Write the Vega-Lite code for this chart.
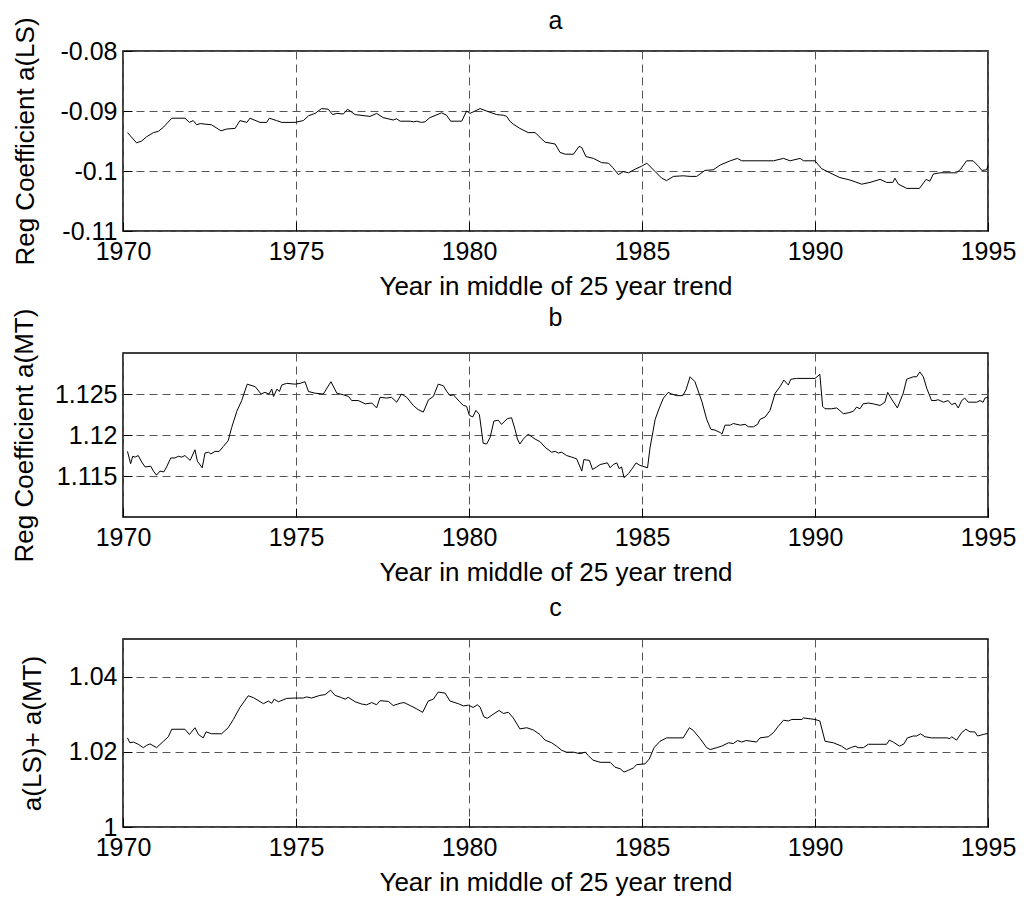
{
  "$schema": "https://vega.github.io/schema/vega-lite/v6.json",
  "background": "white",
  "padding": {"left": 10, "top": 8, "right": 5, "bottom": 2},
  "spacing": 122,
  "bounds": "flush",
  "datasets": {
    "a": [
      {"t": 1970.13, "v": -0.0936}, {"t": 1970.39, "v": -0.0953}, {"t": 1970.54, "v": -0.0950}, {"t": 1970.68, "v": -0.0943},
      {"t": 1970.88, "v": -0.0936}, {"t": 1971.02, "v": -0.0934}, {"t": 1971.17, "v": -0.0927}, {"t": 1971.41, "v": -0.0912},
      {"t": 1971.79, "v": -0.0912}, {"t": 1971.92, "v": -0.0919}, {"t": 1972.03, "v": -0.0916}, {"t": 1972.13, "v": -0.0923},
      {"t": 1972.23, "v": -0.0921}, {"t": 1972.56, "v": -0.0923}, {"t": 1972.83, "v": -0.0933}, {"t": 1973.0, "v": -0.0930},
      {"t": 1973.24, "v": -0.0929}, {"t": 1973.38, "v": -0.0916}, {"t": 1973.58, "v": -0.0919}, {"t": 1973.67, "v": -0.0912},
      {"t": 1973.96, "v": -0.0919}, {"t": 1974.15, "v": -0.0919}, {"t": 1974.23, "v": -0.0912}, {"t": 1974.44, "v": -0.0916},
      {"t": 1974.59, "v": -0.0919}, {"t": 1974.97, "v": -0.0919}, {"t": 1975.21, "v": -0.0916}, {"t": 1975.36, "v": -0.0908},
      {"t": 1975.55, "v": -0.0904}, {"t": 1975.74, "v": -0.0896}, {"t": 1975.93, "v": -0.0897}, {"t": 1976.06, "v": -0.0906},
      {"t": 1976.18, "v": -0.0904}, {"t": 1976.37, "v": -0.0905}, {"t": 1976.49, "v": -0.0897}, {"t": 1976.71, "v": -0.0906},
      {"t": 1977.14, "v": -0.0909}, {"t": 1977.33, "v": -0.0904}, {"t": 1977.52, "v": -0.0911}, {"t": 1977.81, "v": -0.0915},
      {"t": 1977.91, "v": -0.0913}, {"t": 1978.01, "v": -0.0917}, {"t": 1978.30, "v": -0.0917}, {"t": 1978.39, "v": -0.0918},
      {"t": 1978.49, "v": -0.0917}, {"t": 1978.63, "v": -0.0919}, {"t": 1978.73, "v": -0.0918}, {"t": 1978.87, "v": -0.0911},
      {"t": 1979.21, "v": -0.0903}, {"t": 1979.35, "v": -0.0907}, {"t": 1979.47, "v": -0.0917}, {"t": 1979.79, "v": -0.0917},
      {"t": 1979.93, "v": -0.0900}, {"t": 1980.03, "v": -0.0904}, {"t": 1980.32, "v": -0.0896}, {"t": 1980.60, "v": -0.0902},
      {"t": 1980.80, "v": -0.0906}, {"t": 1980.99, "v": -0.0907}, {"t": 1981.09, "v": -0.0909}, {"t": 1981.18, "v": -0.0917},
      {"t": 1981.28, "v": -0.0922}, {"t": 1981.47, "v": -0.0929}, {"t": 1981.71, "v": -0.0936}, {"t": 1981.91, "v": -0.0936},
      {"t": 1982.20, "v": -0.0952}, {"t": 1982.49, "v": -0.0955}, {"t": 1982.63, "v": -0.0969}, {"t": 1982.78, "v": -0.0972},
      {"t": 1983.02, "v": -0.0972}, {"t": 1983.18, "v": -0.0959}, {"t": 1983.26, "v": -0.0961}, {"t": 1983.38, "v": -0.0976},
      {"t": 1983.60, "v": -0.0979}, {"t": 1983.83, "v": -0.0986}, {"t": 1984.03, "v": -0.0987}, {"t": 1984.15, "v": -0.0994},
      {"t": 1984.32, "v": -0.1006}, {"t": 1984.46, "v": -0.1001}, {"t": 1984.61, "v": -0.1003}, {"t": 1984.80, "v": -0.0997},
      {"t": 1984.99, "v": -0.0992}, {"t": 1985.14, "v": -0.0987}, {"t": 1985.38, "v": -0.1001}, {"t": 1985.57, "v": -0.1012},
      {"t": 1985.71, "v": -0.1016}, {"t": 1985.91, "v": -0.1009}, {"t": 1986.19, "v": -0.1008}, {"t": 1986.39, "v": -0.1009},
      {"t": 1986.58, "v": -0.1009}, {"t": 1986.82, "v": -0.0999}, {"t": 1987.06, "v": -0.0998}, {"t": 1987.26, "v": -0.0990},
      {"t": 1987.55, "v": -0.0983}, {"t": 1987.76, "v": -0.0979}, {"t": 1987.88, "v": -0.0983}, {"t": 1988.80, "v": -0.0983},
      {"t": 1989.09, "v": -0.0979}, {"t": 1989.28, "v": -0.0983}, {"t": 1989.57, "v": -0.0979}, {"t": 1989.67, "v": -0.0983},
      {"t": 1990.00, "v": -0.0983}, {"t": 1990.19, "v": -0.0996}, {"t": 1990.43, "v": -0.1003}, {"t": 1990.72, "v": -0.1011},
      {"t": 1991.01, "v": -0.1015}, {"t": 1991.16, "v": -0.1018}, {"t": 1991.35, "v": -0.1022}, {"t": 1991.59, "v": -0.1019},
      {"t": 1991.88, "v": -0.1014}, {"t": 1992.07, "v": -0.1019}, {"t": 1992.25, "v": -0.1019}, {"t": 1992.31, "v": -0.1012},
      {"t": 1992.41, "v": -0.1022}, {"t": 1992.65, "v": -0.1029}, {"t": 1993.02, "v": -0.1029}, {"t": 1993.21, "v": -0.1014},
      {"t": 1993.32, "v": -0.1017}, {"t": 1993.42, "v": -0.1005}, {"t": 1993.61, "v": -0.1003}, {"t": 1994.09, "v": -0.1003},
      {"t": 1994.21, "v": -0.0997}, {"t": 1994.38, "v": -0.0983}, {"t": 1994.57, "v": -0.0983}, {"t": 1994.74, "v": -0.0993},
      {"t": 1994.82, "v": -0.0999}, {"t": 1994.96, "v": -0.0998}, {"t": 1995.0, "v": -0.0991}
    ],
    "b": [
      {"t": 1970.13, "v": 1.1180}, {"t": 1970.22, "v": 1.1165}, {"t": 1970.28, "v": 1.1174}, {"t": 1970.35, "v": 1.1173},
      {"t": 1970.44, "v": 1.1175}, {"t": 1970.54, "v": 1.1167}, {"t": 1970.64, "v": 1.1161}, {"t": 1970.80, "v": 1.1162},
      {"t": 1970.88, "v": 1.1156}, {"t": 1970.97, "v": 1.1151}, {"t": 1971.07, "v": 1.1156}, {"t": 1971.18, "v": 1.1155},
      {"t": 1971.26, "v": 1.1161}, {"t": 1971.38, "v": 1.1172}, {"t": 1971.50, "v": 1.1172}, {"t": 1971.60, "v": 1.1174},
      {"t": 1971.70, "v": 1.1173}, {"t": 1971.79, "v": 1.1175}, {"t": 1971.94, "v": 1.1169}, {"t": 1972.08, "v": 1.1182},
      {"t": 1972.15, "v": 1.1168}, {"t": 1972.29, "v": 1.1160}, {"t": 1972.37, "v": 1.1178}, {"t": 1972.47, "v": 1.1179},
      {"t": 1972.54, "v": 1.1177}, {"t": 1972.66, "v": 1.1180}, {"t": 1972.78, "v": 1.1180}, {"t": 1972.90, "v": 1.1186},
      {"t": 1973.04, "v": 1.1193}, {"t": 1973.14, "v": 1.1209}, {"t": 1973.29, "v": 1.1229}, {"t": 1973.43, "v": 1.1242},
      {"t": 1973.59, "v": 1.1262}, {"t": 1973.82, "v": 1.1259}, {"t": 1973.99, "v": 1.1250}, {"t": 1974.10, "v": 1.1252},
      {"t": 1974.22, "v": 1.1250}, {"t": 1974.30, "v": 1.1256}, {"t": 1974.35, "v": 1.1247}, {"t": 1974.45, "v": 1.1256},
      {"t": 1974.52, "v": 1.1253}, {"t": 1974.59, "v": 1.1261}, {"t": 1974.73, "v": 1.1263}, {"t": 1974.97, "v": 1.1262},
      {"t": 1975.12, "v": 1.1263}, {"t": 1975.26, "v": 1.1265}, {"t": 1975.36, "v": 1.1253}, {"t": 1975.55, "v": 1.1251},
      {"t": 1975.79, "v": 1.1250}, {"t": 1976.01, "v": 1.1265}, {"t": 1976.18, "v": 1.1251}, {"t": 1976.37, "v": 1.1249},
      {"t": 1976.52, "v": 1.1247}, {"t": 1976.61, "v": 1.1242}, {"t": 1976.80, "v": 1.1242}, {"t": 1977.00, "v": 1.1238},
      {"t": 1977.19, "v": 1.1239}, {"t": 1977.33, "v": 1.1233}, {"t": 1977.43, "v": 1.1246}, {"t": 1977.62, "v": 1.1245},
      {"t": 1977.76, "v": 1.1246}, {"t": 1977.91, "v": 1.1240}, {"t": 1978.05, "v": 1.1250}, {"t": 1978.20, "v": 1.1246},
      {"t": 1978.39, "v": 1.1236}, {"t": 1978.53, "v": 1.1231}, {"t": 1978.68, "v": 1.1228}, {"t": 1978.83, "v": 1.1243},
      {"t": 1978.97, "v": 1.1247}, {"t": 1979.11, "v": 1.1262}, {"t": 1979.26, "v": 1.1260}, {"t": 1979.36, "v": 1.1253},
      {"t": 1979.45, "v": 1.1248}, {"t": 1979.55, "v": 1.1249}, {"t": 1979.72, "v": 1.1241}, {"t": 1979.84, "v": 1.1236},
      {"t": 1979.93, "v": 1.1235}, {"t": 1980.01, "v": 1.1224}, {"t": 1980.11, "v": 1.1222}, {"t": 1980.20, "v": 1.1230},
      {"t": 1980.30, "v": 1.1225}, {"t": 1980.41, "v": 1.1190}, {"t": 1980.51, "v": 1.1189}, {"t": 1980.61, "v": 1.1197},
      {"t": 1980.72, "v": 1.1217}, {"t": 1980.85, "v": 1.1218}, {"t": 1980.94, "v": 1.1213}, {"t": 1981.11, "v": 1.1220},
      {"t": 1981.23, "v": 1.1221}, {"t": 1981.33, "v": 1.1207}, {"t": 1981.40, "v": 1.1195}, {"t": 1981.47, "v": 1.1189},
      {"t": 1981.57, "v": 1.1195}, {"t": 1981.71, "v": 1.1201}, {"t": 1981.91, "v": 1.1195}, {"t": 1982.05, "v": 1.1192},
      {"t": 1982.20, "v": 1.1185}, {"t": 1982.39, "v": 1.1179}, {"t": 1982.49, "v": 1.1180}, {"t": 1982.58, "v": 1.1178},
      {"t": 1982.68, "v": 1.1179}, {"t": 1982.82, "v": 1.1175}, {"t": 1982.97, "v": 1.1173}, {"t": 1983.11, "v": 1.1171},
      {"t": 1983.21, "v": 1.1161}, {"t": 1983.26, "v": 1.1156}, {"t": 1983.32, "v": 1.1170}, {"t": 1983.48, "v": 1.1169},
      {"t": 1983.57, "v": 1.1158}, {"t": 1983.69, "v": 1.1161}, {"t": 1983.79, "v": 1.1164}, {"t": 1984.00, "v": 1.1166},
      {"t": 1984.08, "v": 1.1160}, {"t": 1984.17, "v": 1.1164}, {"t": 1984.27, "v": 1.1166}, {"t": 1984.34, "v": 1.1159},
      {"t": 1984.41, "v": 1.1161}, {"t": 1984.48, "v": 1.1148}, {"t": 1984.61, "v": 1.1153}, {"t": 1984.70, "v": 1.1158},
      {"t": 1984.83, "v": 1.1166}, {"t": 1984.94, "v": 1.1163}, {"t": 1985.16, "v": 1.1160}, {"t": 1985.23, "v": 1.1184},
      {"t": 1985.38, "v": 1.1219}, {"t": 1985.50, "v": 1.1233}, {"t": 1985.62, "v": 1.1245}, {"t": 1985.76, "v": 1.1252},
      {"t": 1985.86, "v": 1.1250}, {"t": 1986.00, "v": 1.1248}, {"t": 1986.18, "v": 1.1248}, {"t": 1986.27, "v": 1.1255},
      {"t": 1986.39, "v": 1.1271}, {"t": 1986.53, "v": 1.1265}, {"t": 1986.73, "v": 1.1241}, {"t": 1986.87, "v": 1.1219},
      {"t": 1986.99, "v": 1.1207}, {"t": 1987.11, "v": 1.1206}, {"t": 1987.26, "v": 1.1203}, {"t": 1987.31, "v": 1.1201},
      {"t": 1987.40, "v": 1.1212}, {"t": 1987.55, "v": 1.1212}, {"t": 1987.64, "v": 1.1214}, {"t": 1987.84, "v": 1.1212},
      {"t": 1987.98, "v": 1.1213}, {"t": 1988.08, "v": 1.1210}, {"t": 1988.22, "v": 1.1210}, {"t": 1988.34, "v": 1.1213},
      {"t": 1988.41, "v": 1.1219}, {"t": 1988.56, "v": 1.1222}, {"t": 1988.70, "v": 1.1230}, {"t": 1988.85, "v": 1.1251},
      {"t": 1988.99, "v": 1.1259}, {"t": 1989.10, "v": 1.1267}, {"t": 1989.23, "v": 1.1261}, {"t": 1989.30, "v": 1.1268},
      {"t": 1989.47, "v": 1.1269}, {"t": 1990.00, "v": 1.1269}, {"t": 1990.14, "v": 1.1274}, {"t": 1990.22, "v": 1.1235},
      {"t": 1990.29, "v": 1.1232}, {"t": 1990.48, "v": 1.1232}, {"t": 1990.63, "v": 1.1233}, {"t": 1990.82, "v": 1.1226},
      {"t": 1990.96, "v": 1.1227}, {"t": 1991.11, "v": 1.1229}, {"t": 1991.20, "v": 1.1234}, {"t": 1991.30, "v": 1.1232},
      {"t": 1991.39, "v": 1.1238}, {"t": 1991.54, "v": 1.1239}, {"t": 1991.68, "v": 1.1238}, {"t": 1991.88, "v": 1.1236},
      {"t": 1992.02, "v": 1.1240}, {"t": 1992.10, "v": 1.1252}, {"t": 1992.21, "v": 1.1244}, {"t": 1992.38, "v": 1.1233},
      {"t": 1992.55, "v": 1.1251}, {"t": 1992.65, "v": 1.1268}, {"t": 1992.84, "v": 1.1271}, {"t": 1992.94, "v": 1.1271},
      {"t": 1993.03, "v": 1.1277}, {"t": 1993.13, "v": 1.1271}, {"t": 1993.23, "v": 1.1257}, {"t": 1993.37, "v": 1.1242},
      {"t": 1993.47, "v": 1.1242}, {"t": 1993.56, "v": 1.1243}, {"t": 1993.71, "v": 1.1240}, {"t": 1993.85, "v": 1.1242},
      {"t": 1993.95, "v": 1.1237}, {"t": 1994.05, "v": 1.1239}, {"t": 1994.14, "v": 1.1233}, {"t": 1994.24, "v": 1.1242},
      {"t": 1994.33, "v": 1.1245}, {"t": 1994.43, "v": 1.1240}, {"t": 1994.67, "v": 1.1240}, {"t": 1994.77, "v": 1.1242},
      {"t": 1994.86, "v": 1.1240}, {"t": 1994.91, "v": 1.1245}, {"t": 1995.0, "v": 1.1246}
    ],
    "c": [
      {"t": 1970.13, "v": 1.0237}, {"t": 1970.20, "v": 1.0224}, {"t": 1970.30, "v": 1.0226}, {"t": 1970.44, "v": 1.0220},
      {"t": 1970.59, "v": 1.0211}, {"t": 1970.68, "v": 1.0217}, {"t": 1970.78, "v": 1.0221}, {"t": 1970.97, "v": 1.0211},
      {"t": 1971.17, "v": 1.0228}, {"t": 1971.31, "v": 1.0240}, {"t": 1971.41, "v": 1.0260}, {"t": 1971.79, "v": 1.0260},
      {"t": 1971.92, "v": 1.0246}, {"t": 1972.08, "v": 1.0264}, {"t": 1972.18, "v": 1.0246}, {"t": 1972.32, "v": 1.0237},
      {"t": 1972.40, "v": 1.0253}, {"t": 1972.56, "v": 1.0248}, {"t": 1972.85, "v": 1.0248}, {"t": 1973.04, "v": 1.0264},
      {"t": 1973.19, "v": 1.0286}, {"t": 1973.38, "v": 1.0318}, {"t": 1973.62, "v": 1.0349}, {"t": 1973.77, "v": 1.0344},
      {"t": 1974.06, "v": 1.0328}, {"t": 1974.20, "v": 1.0335}, {"t": 1974.30, "v": 1.0329}, {"t": 1974.37, "v": 1.0340},
      {"t": 1974.49, "v": 1.0333}, {"t": 1974.73, "v": 1.0342}, {"t": 1974.97, "v": 1.0343}, {"t": 1975.21, "v": 1.0343},
      {"t": 1975.31, "v": 1.0346}, {"t": 1975.45, "v": 1.0343}, {"t": 1975.69, "v": 1.0350}, {"t": 1975.84, "v": 1.0352},
      {"t": 1976.00, "v": 1.0364}, {"t": 1976.13, "v": 1.0350}, {"t": 1976.32, "v": 1.0344}, {"t": 1976.42, "v": 1.0340},
      {"t": 1976.51, "v": 1.0345}, {"t": 1976.71, "v": 1.0333}, {"t": 1976.90, "v": 1.0327}, {"t": 1977.04, "v": 1.0325},
      {"t": 1977.19, "v": 1.0331}, {"t": 1977.33, "v": 1.0325}, {"t": 1977.43, "v": 1.0336}, {"t": 1977.67, "v": 1.0334},
      {"t": 1977.81, "v": 1.0323}, {"t": 1978.01, "v": 1.0329}, {"t": 1978.12, "v": 1.0331}, {"t": 1978.30, "v": 1.0323},
      {"t": 1978.49, "v": 1.0314}, {"t": 1978.66, "v": 1.0305}, {"t": 1978.82, "v": 1.0335}, {"t": 1978.97, "v": 1.0340},
      {"t": 1979.11, "v": 1.0359}, {"t": 1979.31, "v": 1.0356}, {"t": 1979.45, "v": 1.0335}, {"t": 1979.69, "v": 1.0328},
      {"t": 1979.84, "v": 1.0322}, {"t": 1979.98, "v": 1.0324}, {"t": 1980.12, "v": 1.0318}, {"t": 1980.24, "v": 1.0325},
      {"t": 1980.32, "v": 1.0319}, {"t": 1980.43, "v": 1.0293}, {"t": 1980.53, "v": 1.0289}, {"t": 1980.70, "v": 1.0300},
      {"t": 1980.87, "v": 1.0310}, {"t": 1980.99, "v": 1.0302}, {"t": 1981.14, "v": 1.0305}, {"t": 1981.28, "v": 1.0290},
      {"t": 1981.47, "v": 1.0261}, {"t": 1981.67, "v": 1.0264}, {"t": 1981.86, "v": 1.0258}, {"t": 1982.05, "v": 1.0246},
      {"t": 1982.20, "v": 1.0231}, {"t": 1982.39, "v": 1.0224}, {"t": 1982.53, "v": 1.0215}, {"t": 1982.68, "v": 1.0204},
      {"t": 1982.82, "v": 1.0199}, {"t": 1983.02, "v": 1.0199}, {"t": 1983.21, "v": 1.0195}, {"t": 1983.36, "v": 1.0199},
      {"t": 1983.45, "v": 1.0190}, {"t": 1983.58, "v": 1.0178}, {"t": 1983.79, "v": 1.0172}, {"t": 1984.08, "v": 1.0172},
      {"t": 1984.22, "v": 1.0159}, {"t": 1984.37, "v": 1.0155}, {"t": 1984.48, "v": 1.0146}, {"t": 1984.61, "v": 1.0151},
      {"t": 1984.75, "v": 1.0157}, {"t": 1984.85, "v": 1.0166}, {"t": 1985.09, "v": 1.0168}, {"t": 1985.21, "v": 1.0181},
      {"t": 1985.35, "v": 1.0211}, {"t": 1985.52, "v": 1.0228}, {"t": 1985.71, "v": 1.0237}, {"t": 1986.19, "v": 1.0237},
      {"t": 1986.37, "v": 1.0264}, {"t": 1986.48, "v": 1.0257}, {"t": 1986.68, "v": 1.0235}, {"t": 1986.87, "v": 1.0211},
      {"t": 1986.97, "v": 1.0206}, {"t": 1987.16, "v": 1.0211}, {"t": 1987.30, "v": 1.0215}, {"t": 1987.50, "v": 1.0224},
      {"t": 1987.64, "v": 1.0222}, {"t": 1987.76, "v": 1.0230}, {"t": 1987.88, "v": 1.0226}, {"t": 1988.01, "v": 1.0230},
      {"t": 1988.31, "v": 1.0226}, {"t": 1988.41, "v": 1.0237}, {"t": 1988.65, "v": 1.0240}, {"t": 1988.80, "v": 1.0251},
      {"t": 1988.94, "v": 1.0268}, {"t": 1989.09, "v": 1.0284}, {"t": 1989.23, "v": 1.0282}, {"t": 1989.33, "v": 1.0286},
      {"t": 1989.62, "v": 1.0286}, {"t": 1989.67, "v": 1.0290}, {"t": 1990.00, "v": 1.0286}, {"t": 1990.14, "v": 1.0282},
      {"t": 1990.29, "v": 1.0228}, {"t": 1990.53, "v": 1.0224}, {"t": 1990.77, "v": 1.0215}, {"t": 1990.91, "v": 1.0206},
      {"t": 1991.06, "v": 1.0212}, {"t": 1991.16, "v": 1.0215}, {"t": 1991.25, "v": 1.0211}, {"t": 1991.40, "v": 1.0211},
      {"t": 1991.54, "v": 1.0220}, {"t": 1992.07, "v": 1.0220}, {"t": 1992.15, "v": 1.0231}, {"t": 1992.26, "v": 1.0226},
      {"t": 1992.44, "v": 1.0215}, {"t": 1992.57, "v": 1.0221}, {"t": 1992.67, "v": 1.0237}, {"t": 1992.84, "v": 1.0242},
      {"t": 1992.94, "v": 1.0242}, {"t": 1993.05, "v": 1.0248}, {"t": 1993.18, "v": 1.0240}, {"t": 1993.37, "v": 1.0237},
      {"t": 1993.81, "v": 1.0237}, {"t": 1993.90, "v": 1.0235}, {"t": 1993.95, "v": 1.0240}, {"t": 1994.09, "v": 1.0231},
      {"t": 1994.24, "v": 1.0251}, {"t": 1994.36, "v": 1.0260}, {"t": 1994.48, "v": 1.0253}, {"t": 1994.62, "v": 1.0253},
      {"t": 1994.70, "v": 1.0242}, {"t": 1994.86, "v": 1.0246}, {"t": 1995.0, "v": 1.0249}
    ]
  },
  "vconcat": [
    {
      "title": {"text": "a", "dy": 40},
      "width": 865,
      "height": 180,
      "data": {"name": "a"},
      "mark": {"type": "line", "color": "black", "strokeWidth": 1},
      "encoding": {
        "x": {"field": "t", "type": "quantitative", "scale": {"domain": [1970, 1995], "nice": false, "zero": false},
              "axis": {"title": "Year in middle of 25 year trend", "values": [1970, 1975, 1980, 1985, 1990, 1995], "format": "d"}},
        "y": {"field": "v", "type": "quantitative", "scale": {"domain": [-0.11, -0.08], "nice": false, "zero": false},
              "axis": {"title": "Reg Coefficient a(LS)", "values": [-0.11, -0.1, -0.09, -0.08], "labelExpr": "'' + datum.value", "titleX": -98}}
      }
    },
    {
      "title": {"text": "b", "dy": 46},
      "width": 865,
      "height": 164,
      "data": {"name": "b"},
      "mark": {"type": "line", "color": "black", "strokeWidth": 1},
      "encoding": {
        "x": {"field": "t", "type": "quantitative", "scale": {"domain": [1970, 1995], "nice": false, "zero": false},
              "axis": {"title": "Year in middle of 25 year trend", "values": [1970, 1975, 1980, 1985, 1990, 1995], "format": "d"}},
        "y": {"field": "v", "type": "quantitative", "scale": {"domain": [1.11, 1.13], "nice": false, "zero": false},
              "axis": {"title": "Reg Coefficient a(MT)", "values": [1.115, 1.12, 1.125], "labelExpr": "'' + datum.value", "titleX": -99}}
      }
    },
    {
      "title": {"text": "c", "dy": 5},
      "width": 865,
      "height": 188,
      "data": {"name": "c"},
      "mark": {"type": "line", "color": "black", "strokeWidth": 1},
      "encoding": {
        "x": {"field": "t", "type": "quantitative", "scale": {"domain": [1970, 1995], "nice": false, "zero": false},
              "axis": {"title": "Year in middle of 25 year trend", "values": [1970, 1975, 1980, 1985, 1990, 1995], "format": "d"}},
        "y": {"field": "v", "type": "quantitative", "scale": {"domain": [1, 1.05], "nice": false, "zero": false},
              "axis": {"title": "a(LS)+ a(MT)", "values": [1, 1.02, 1.04], "labelExpr": "'' + datum.value", "titleX": -91}}
      }
    }
  ],
  "config": {
    "font": "Liberation Sans",
    "view": {"stroke": "black", "strokeWidth": 1.5},
    "axis": {
      "domain": false,
      "grid": true,
      "gridDash": [8, 5],
      "gridColor": "#555555",
      "gridOpacity": 1,
      "gridWidth": 1,
      "ticks": true,
      "tickSize": -9,
      "tickColor": "black",
      "tickWidth": 1,
      "labelFont": "Liberation Sans",
      "labelFontSize": 25,
      "labelColor": "black",
      "labelOverlap": false,
      "labelFlush": false,
      "labelBound": false,
      "titleFont": "Liberation Sans",
      "titleFontSize": 26,
      "titleFontWeight": "normal",
      "titleColor": "black"
    },
    "axisX": {"labelPadding": 37, "labelBaseline": "alphabetic", "titleY": 63, "titleBaseline": "alphabetic"},
    "axisY": {"labelPadding": 15, "titleBaseline": "middle"},
    "title": {"font": "Liberation Sans", "fontSize": 25, "fontWeight": "normal", "color": "black", "baseline": "alphabetic", "offset": 23}
  }
}
